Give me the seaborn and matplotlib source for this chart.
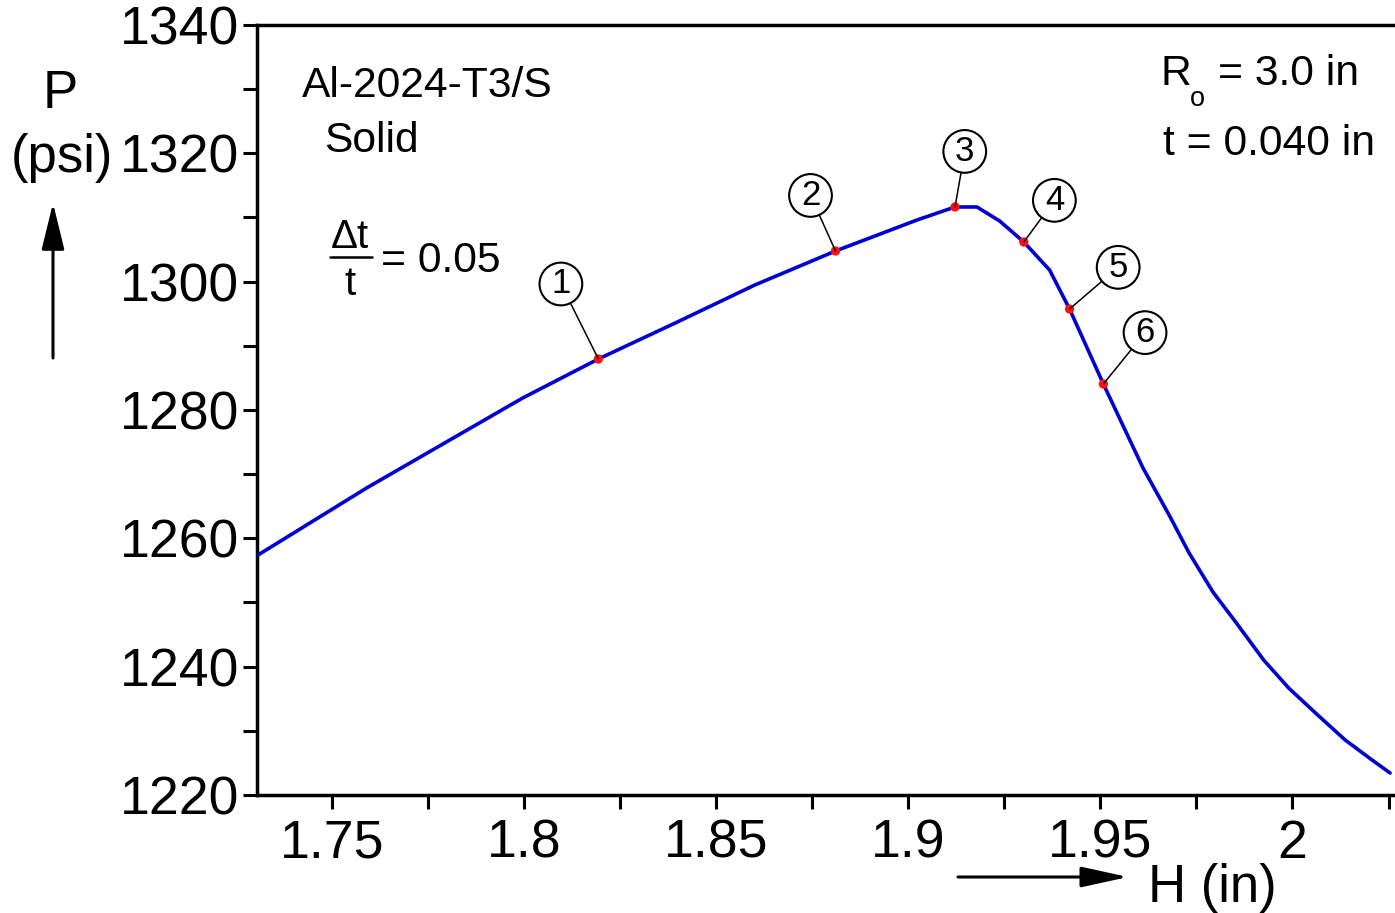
import numpy as np
import pandas as pd
import matplotlib
matplotlib.use("Agg")
import matplotlib.pyplot as plt
import seaborn as sns

# Pressure vs. axial displacement for an Al-2024-T3/S solid shell
H_curve = [1.7200, 1.7591, 1.7785, 1.7997, 1.8194, 1.8394, 1.8601, 1.8811,
           1.9023, 1.9122, 1.9179, 1.9238, 1.9301, 1.9368, 1.9420, 1.9508,
           1.9611, 1.9679, 1.9731, 1.9793, 1.9852, 1.9925, 1.9990, 2.0060,
           2.0137, 2.0207, 2.0254]
P_curve = [1253.4, 1267.85, 1274.55, 1281.87, 1287.95, 1293.56, 1299.48, 1304.78,
           1309.61, 1311.64, 1311.64, 1309.46, 1306.18, 1301.82, 1295.74, 1284.05,
           1270.97, 1263.64, 1257.72, 1251.64, 1246.97, 1241.04, 1236.68, 1232.78,
           1228.58, 1225.46, 1223.43]

# Marked states along the path
H_pts = [1.8194, 1.8811, 1.9122, 1.9301, 1.9420, 1.9508]
P_pts = [1287.95, 1304.78, 1311.64, 1306.18, 1295.74, 1284.05]
pt_labels = ["1", "2", "3", "4", "5", "6"]

x_ticks = [1.75, 1.80, 1.85, 1.90, 1.95, 2.00]
x_ticklabels = ["1.75", "1.8", "1.85", "1.9", "1.95", "2"]
y_ticks = [1220, 1240, 1260, 1280, 1300, 1320, 1340]

sns.set_style("ticks")
plt.rcParams["font.family"] = ["Liberation Sans", "DejaVu Sans"]
plt.rcParams["text.color"] = "black"
plt.rcParams["xtick.color"] = "black"
plt.rcParams["ytick.color"] = "black"
plt.rcParams["xtick.labelcolor"] = "black"
plt.rcParams["ytick.labelcolor"] = "black"

W, H = 1395, 913
fig = plt.figure(figsize=(W / 100, H / 100), dpi=100)
ax = fig.add_axes([257 / W, 1 - 795 / H, 1 - 257 / W, (795 - 25) / H])


def fpx(x, y):
    """Figure-fraction position from pixel coordinates (origin top-left)."""
    return x / W, 1 - y / H


curve = pd.DataFrame({"H": H_curve, "P": P_curve})
pts = pd.DataFrame({"H": H_pts, "P": P_pts})

sns.lineplot(data=curve, x="H", y="P", ax=ax, color="#0000d2", lw=2.6,
             estimator=None, sort=False, zorder=3)
sns.scatterplot(data=pts, x="H", y="P", ax=ax, color="#ff1010", s=45,
                edgecolor="none", zorder=5)

# Circled point numbers with leader lines (offsets in points)
offsets = [(-27, 54), (-18, 40), (7, 40), (22, 30), (35, 30), (30, 37)]
for hx, py, lab, off in zip(H_pts, P_pts, pt_labels, offsets):
    ax.annotate(lab, xy=(hx, py), xytext=off, textcoords="offset points",
                ha="center", va="center", fontsize=25, zorder=6,
                bbox=dict(boxstyle="circle,pad=0.14", fc="white", ec="black", lw=1.5),
                arrowprops=dict(arrowstyle="-", color="black", lw=1.1,
                                shrinkA=0, shrinkB=0))

ax.set_xlim(1.73057, 2.02668)
ax.set_ylim(1220, 1340)
ax.set_xticks(x_ticks)
ax.set_xticklabels(x_ticklabels)
ax.set_xticks(np.arange(1.75, 2.03, 0.025), minor=True)
ax.set_yticks(y_ticks)
ax.set_yticks(np.arange(1220, 1341, 10), minor=True)
ax.set_xlabel("")
ax.set_ylabel("")

for side in ["left", "bottom", "top"]:
    ax.spines[side].set_linewidth(2.5)
    ax.spines[side].set_color("black")
ax.spines["right"].set_visible(False)
ax.tick_params(which="both", direction="out", length=10, width=2.2, color="black")
ax.tick_params(axis="y", labelsize=38.5, pad=3)
ax.tick_params(axis="x", labelsize=38.5, pad=7)

# Axis titles and arrows
fig.text(*fpx(60, 108), "P", fontsize=38, ha="center", va="baseline")
fig.text(*fpx(62, 172), "(psi)", fontsize=38, ha="center", va="baseline")
fig.patches.append(matplotlib.patches.FancyArrowPatch(
    fpx(53, 358), fpx(53, 203), transform=fig.transFigure,
    arrowstyle="-|>,head_length=2.05,head_width=0.5", lw=2.2, color="black",
    shrinkA=0, shrinkB=0, mutation_scale=14))
fig.text(*fpx(1148, 902), "H (in)", fontsize=38, ha="left", va="baseline")
fig.patches.append(matplotlib.patches.FancyArrowPatch(
    fpx(958, 877), fpx(1128, 877), transform=fig.transFigure,
    arrowstyle="-|>,head_length=2.05,head_width=0.45", lw=2.2, color="black",
    shrinkA=0, shrinkB=0, mutation_scale=14))

# Material / geometry notes
fig.text(*fpx(302, 97), "Al-2024-T3/S", fontsize=30.7, ha="left", va="baseline")
fig.text(*fpx(324, 152), "Solid", fontsize=30.7, ha="left", va="baseline")

fig.text(*fpx(350, 248), "\u0394t", fontsize=29, ha="center", va="baseline")
fig.lines.append(matplotlib.lines.Line2D([330 / W, 372 / W], [1 - 257 / H, 1 - 257 / H],
                                         transform=fig.transFigure, color="black", lw=1.8))
fig.text(*fpx(350, 295), "t", fontsize=29, ha="center", va="baseline")
fig.text(*fpx(381, 272), "= 0.05", fontsize=30.7, ha="left", va="baseline")

fig.text(*fpx(1160, 85), "R", fontsize=30.7, ha="left", va="baseline")
fig.text(*fpx(1190, 106), "o", fontsize=19.5, ha="left", va="baseline")
fig.text(*fpx(1218, 85), "= 3.0 in", fontsize=30.7, ha="left", va="baseline")
fig.text(*fpx(1163, 155), "t = 0.040 in", fontsize=30.7, ha="left", va="baseline")

fig.savefig("out.png", dpi=100)
